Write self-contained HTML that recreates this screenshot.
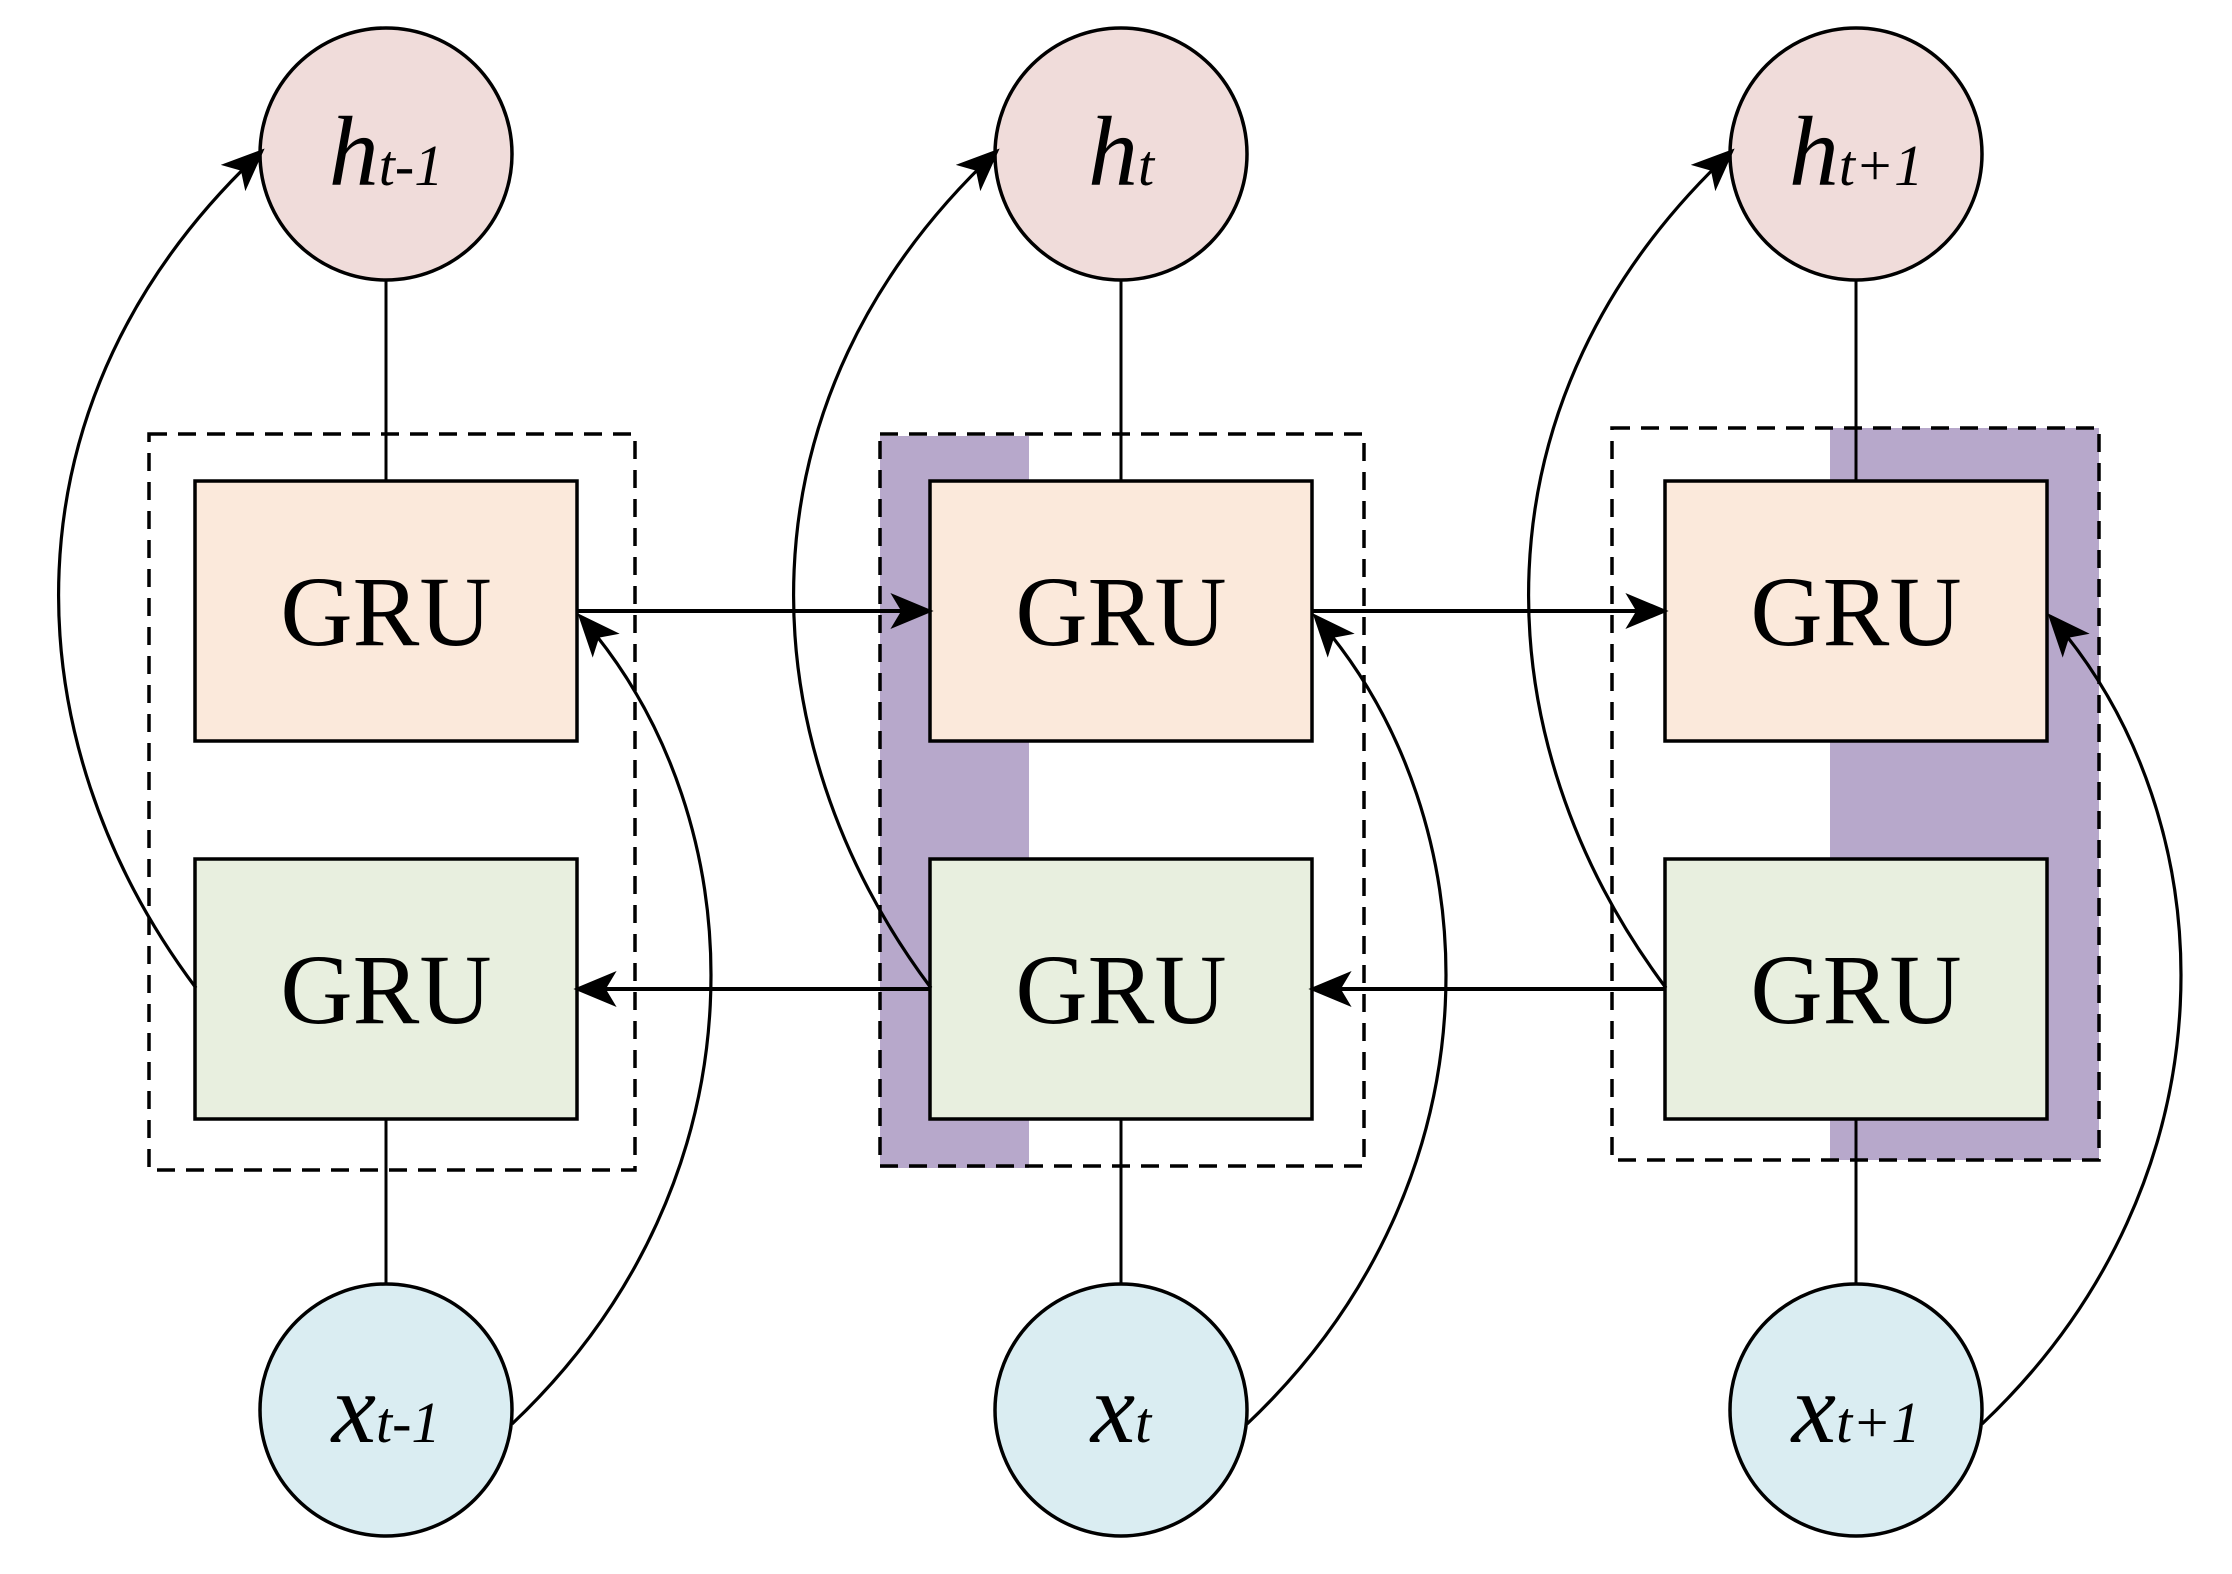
<!DOCTYPE html>
<html><head><meta charset="utf-8"><style>html,body{margin:0;padding:0;background:#fff}svg{display:block}</style></head>
<body>
<svg width="2232" height="1574" viewBox="0 0 2232 1574" xmlns="http://www.w3.org/2000/svg">
<defs>
<marker id="a" viewBox="0 0 12 10" refX="11" refY="5" markerWidth="44" markerHeight="36" markerUnits="userSpaceOnUse" orient="auto">
<path d="M0,0 L12,5 L0,10 L3,5 Z" fill="#000"/>
</marker>
</defs>
<rect x="880" y="436" width="149" height="732" fill="#b7a8cb"/>
<rect x="1830" y="428" width="269" height="732" fill="#b7a8cb"/>
<g fill="none" stroke="#000" stroke-width="3.5" stroke-dasharray="18,11">
<rect x="149" y="434" width="486" height="736"/>
<rect x="880" y="434" width="484" height="732"/>
<rect x="1612" y="428" width="487" height="732"/>
</g>
<g stroke="#000" stroke-width="3">
<line x1="386" y1="281" x2="386" y2="481"/><line x1="386" y1="1119" x2="386" y2="1284"/>
<line x1="1121" y1="281" x2="1121" y2="481"/><line x1="1121" y1="1119" x2="1121" y2="1284"/>
<line x1="1856" y1="281" x2="1856" y2="481"/><line x1="1856" y1="1119" x2="1856" y2="1284"/>
</g>
<g stroke="#000" stroke-width="3.5">
<rect x="195" y="481" width="382" height="260" fill="#fbe9db"/>
<rect x="930" y="481" width="382" height="260" fill="#fbe9db"/>
<rect x="1665" y="481" width="382" height="260" fill="#fbe9db"/>
<rect x="195" y="859" width="382" height="260" fill="#e8efdf"/>
<rect x="930" y="859" width="382" height="260" fill="#e8efdf"/>
<rect x="1665" y="859" width="382" height="260" fill="#e8efdf"/>
</g>
<g stroke="#000" stroke-width="3.5">
<circle cx="386" cy="154" r="126" fill="#f0dcda"/>
<circle cx="1121" cy="154" r="126" fill="#f0dcda"/>
<circle cx="1856" cy="154" r="126" fill="#f0dcda"/>
<circle cx="386" cy="1410" r="126" fill="#daedf2"/>
<circle cx="1121" cy="1410" r="126" fill="#daedf2"/>
<circle cx="1856" cy="1410" r="126" fill="#daedf2"/>
</g>
<g stroke="#000" stroke-width="4" fill="none">
<line x1="577" y1="611" x2="930" y2="611" marker-end="url(#a)"/>
<line x1="1312" y1="611" x2="1665" y2="611" marker-end="url(#a)"/>
<line x1="930" y1="989" x2="577" y2="989" marker-end="url(#a)"/>
<line x1="1665" y1="989" x2="1312" y2="989" marker-end="url(#a)"/>
</g>
<g stroke="#000" stroke-width="3.2" fill="none">
<path d="M196,988 C10,740 -5,400 262,151" marker-end="url(#a)"/>
<path d="M931,988 C745,740 730,400 997,151" marker-end="url(#a)"/>
<path d="M1666,988 C1480,740 1465,400 1732,151" marker-end="url(#a)"/>
<path d="M512,1424 C770,1180 760,820 580,616" marker-end="url(#a)"/>
<path d="M1247,1424 C1505,1180 1495,820 1315,616" marker-end="url(#a)"/>
<path d="M1982,1424 C2240,1180 2230,820 2050,616" marker-end="url(#a)"/>
</g>
<g font-family="'Liberation Serif', serif" font-size="100" text-anchor="middle" fill="#000">
<text x="386" y="645">GRU</text><text x="1121" y="645">GRU</text><text x="1856" y="645">GRU</text>
<text x="386" y="1023">GRU</text><text x="1121" y="1023">GRU</text><text x="1856" y="1023">GRU</text>
</g>
<g font-family="'Liberation Serif', serif" font-style="italic" fill="#000" text-anchor="middle">
<text x="386" y="185" font-size="100">h<tspan font-size="58">t-1</tspan></text>
<text x="1121" y="185" font-size="100">h<tspan font-size="58">t</tspan></text>
<text x="1856" y="185" font-size="100">h<tspan font-size="58">t+1</tspan></text>
<text x="386" y="1442" font-size="100">x<tspan font-size="58">t-1</tspan></text>
<text x="1121" y="1442" font-size="100">x<tspan font-size="58">t</tspan></text>
<text x="1856" y="1442" font-size="100">x<tspan font-size="58">t+1</tspan></text>
</g>
</svg>
</body></html>
